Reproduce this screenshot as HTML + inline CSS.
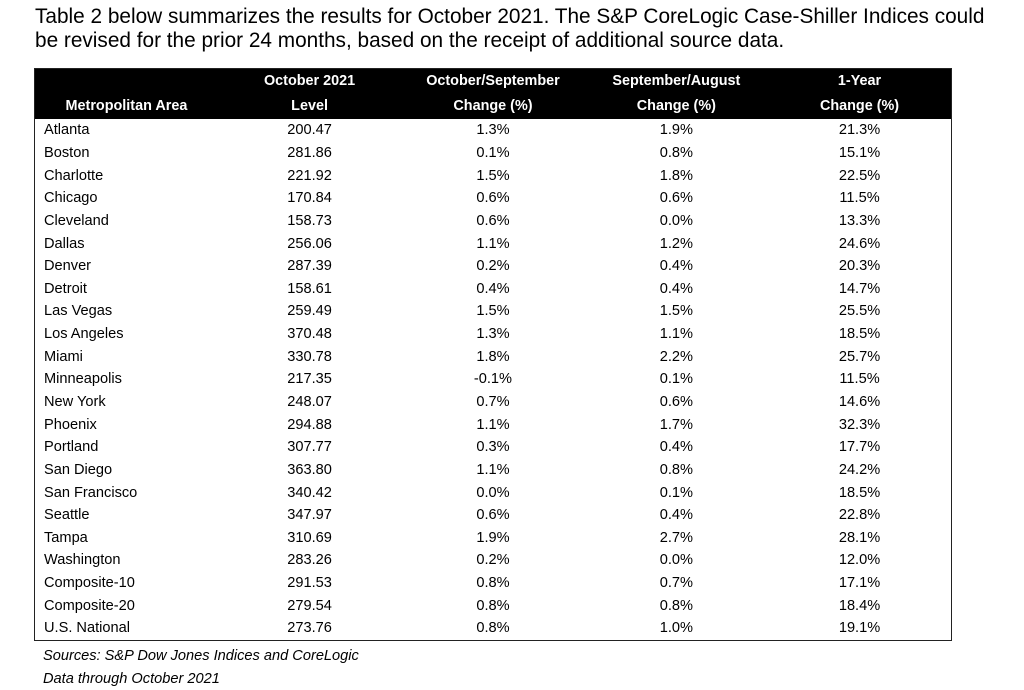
<!DOCTYPE html>
<html><head><style>
body{margin:0;width:1024px;height:690px;background:#fff;font-family:"Liberation Sans",Arial,sans-serif;color:#000;position:relative;overflow:hidden}
.h{position:absolute;left:35px;top:5px;font-size:20.8px;line-height:24px;width:965px;white-space:nowrap}
table{position:absolute;left:34px;top:68px;width:918px;border-collapse:collapse;border:1.5px solid #222;table-layout:fixed}
th{background:#000;color:#fff;font-weight:bold;font-size:14.4px;height:25px;padding:0;text-align:center;line-height:25px}
td{font-size:14.6px;height:22.65px;padding:0;text-align:center;line-height:22px}
td:first-child{text-align:left;padding-left:9px}
.s{position:absolute;left:43px;font-size:14.6px;font-style:italic}
</style></head><body>
<div class="h">Table 2 below summarizes the results for October 2021. The S&amp;P CoreLogic Case-Shiller Indices could<br>be revised for the prior 24 months, based on the receipt of additional source data.</div>
<table>
<tr><th></th><th>October 2021</th><th>October/September</th><th>September/August</th><th>1-Year</th></tr>
<tr><th>Metropolitan Area</th><th>Level</th><th>Change (%)</th><th>Change (%)</th><th>Change (%)</th></tr>
<tr><td>Atlanta</td><td>200.47</td><td>1.3%</td><td>1.9%</td><td>21.3%</td></tr>
<tr><td>Boston</td><td>281.86</td><td>0.1%</td><td>0.8%</td><td>15.1%</td></tr>
<tr><td>Charlotte</td><td>221.92</td><td>1.5%</td><td>1.8%</td><td>22.5%</td></tr>
<tr><td>Chicago</td><td>170.84</td><td>0.6%</td><td>0.6%</td><td>11.5%</td></tr>
<tr><td>Cleveland</td><td>158.73</td><td>0.6%</td><td>0.0%</td><td>13.3%</td></tr>
<tr><td>Dallas</td><td>256.06</td><td>1.1%</td><td>1.2%</td><td>24.6%</td></tr>
<tr><td>Denver</td><td>287.39</td><td>0.2%</td><td>0.4%</td><td>20.3%</td></tr>
<tr><td>Detroit</td><td>158.61</td><td>0.4%</td><td>0.4%</td><td>14.7%</td></tr>
<tr><td>Las Vegas</td><td>259.49</td><td>1.5%</td><td>1.5%</td><td>25.5%</td></tr>
<tr><td>Los Angeles</td><td>370.48</td><td>1.3%</td><td>1.1%</td><td>18.5%</td></tr>
<tr><td>Miami</td><td>330.78</td><td>1.8%</td><td>2.2%</td><td>25.7%</td></tr>
<tr><td>Minneapolis</td><td>217.35</td><td>-0.1%</td><td>0.1%</td><td>11.5%</td></tr>
<tr><td>New York</td><td>248.07</td><td>0.7%</td><td>0.6%</td><td>14.6%</td></tr>
<tr><td>Phoenix</td><td>294.88</td><td>1.1%</td><td>1.7%</td><td>32.3%</td></tr>
<tr><td>Portland</td><td>307.77</td><td>0.3%</td><td>0.4%</td><td>17.7%</td></tr>
<tr><td>San Diego</td><td>363.80</td><td>1.1%</td><td>0.8%</td><td>24.2%</td></tr>
<tr><td>San Francisco</td><td>340.42</td><td>0.0%</td><td>0.1%</td><td>18.5%</td></tr>
<tr><td>Seattle</td><td>347.97</td><td>0.6%</td><td>0.4%</td><td>22.8%</td></tr>
<tr><td>Tampa</td><td>310.69</td><td>1.9%</td><td>2.7%</td><td>28.1%</td></tr>
<tr><td>Washington</td><td>283.26</td><td>0.2%</td><td>0.0%</td><td>12.0%</td></tr>
<tr><td>Composite-10</td><td>291.53</td><td>0.8%</td><td>0.7%</td><td>17.1%</td></tr>
<tr><td>Composite-20</td><td>279.54</td><td>0.8%</td><td>0.8%</td><td>18.4%</td></tr>
<tr><td>U.S. National</td><td>273.76</td><td>0.8%</td><td>1.0%</td><td>19.1%</td></tr>
</table>
<div class="s" style="top:648px">Sources: S&amp;P Dow Jones Indices and CoreLogic</div>
<div class="s" style="top:671px">Data through October 2021</div>
</body></html>
